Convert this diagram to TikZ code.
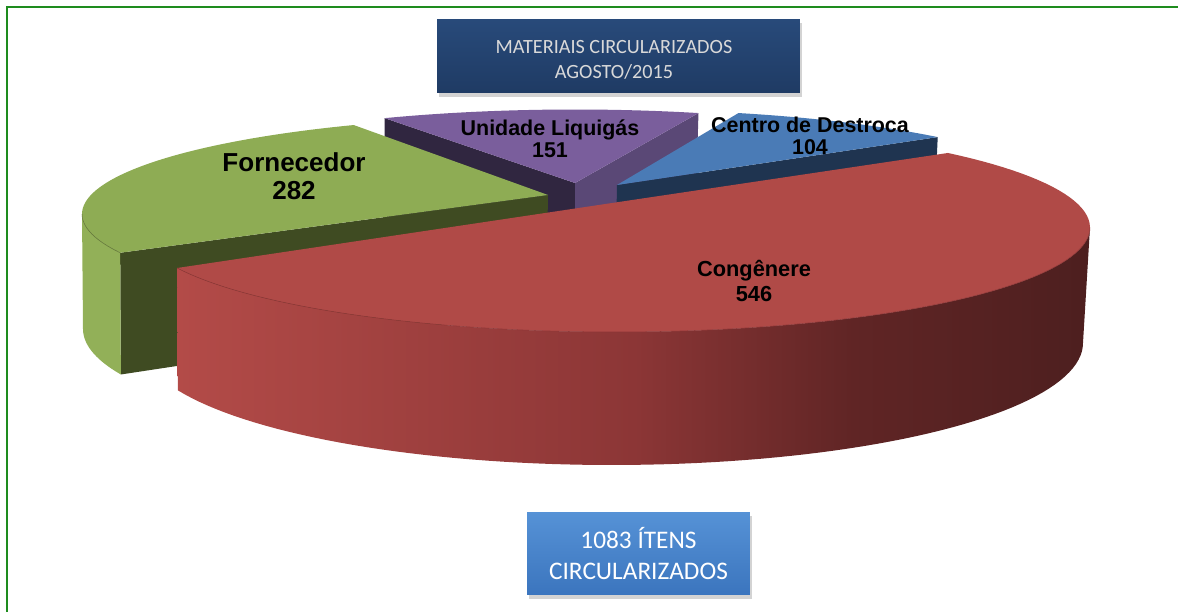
\documentclass[tikz,border=0pt]{standalone}
\usepackage{fontspec}
\setmainfont{Liberation Sans}
\newfontfamily\calibri{Carlito}
\usetikzlibrary{shadows}

\definecolor{frameGreen}{RGB}{30,140,30}
\definecolor{greenTop}{RGB}{142,172,84}
\definecolor{greenSide}{RGB}{146,176,88}
\definecolor{greenDark}{RGB}{63,75,34}
\definecolor{liqTop}{RGB}{122,94,156}
\definecolor{liqDark}{RGB}{48,38,64}
\definecolor{liqSide}{RGB}{90,72,118}
\definecolor{blueTop}{RGB}{74,123,182}
\definecolor{blueDark}{RGB}{31,52,80}
\definecolor{redTop}{RGB}{176,74,71}
\definecolor{redWallA}{RGB}{179,75,72}
\definecolor{redWallB}{RGB}{140,54,54}
\definecolor{redWallC}{RGB}{96,37,37}
\definecolor{redWallD}{RGB}{77,31,31}
\definecolor{navyBox}{RGB}{31,59,100}
\definecolor{navyBoxTop}{RGB}{40,74,122}
\definecolor{skyBoxTop}{RGB}{86,146,214}
\definecolor{skyBoxBot}{RGB}{59,117,190}

\pgfdeclarehorizontalshading{redwall}{100bp}{color(0bp)=(redWallA); color(25bp)=(redWallA); color(50bp)=(redWallB); color(62bp)=(redWallC); color(75bp)=(redWallD); color(100bp)=(redWallD)}

\begin{document}
\begin{tikzpicture}[x=0.02cm,y=-0.02cm,
  frame/.style={draw=frameGreen,line width=1.2pt},
  rimline/.style={line width=0.3pt},
  slicetext/.style={align=center,inner sep=0pt,font=\bfseries\fontsize{12.2}{12.6}\selectfont},
  titlebox/.style={minimum width=7.26cm,minimum height=1.48cm,top color=navyBoxTop,bottom color=navyBox,
    drop shadow={shadow xshift=1pt,shadow yshift=-2pt,opacity=0.35}},
  titletext/.style={text=black!15,align=center,inner sep=0pt,font=\calibri\fontsize{11.5}{14.2}\selectfont},
  totalbox/.style={minimum width=4.46cm,minimum height=1.66cm,top color=skyBoxTop,bottom color=skyBoxBot,
    text=white,align=center,font=\calibri\fontsize{14.4}{17.6}\selectfont,
    drop shadow={shadow xshift=1pt,shadow yshift=-2pt,opacity=0.35}}]

\useasboundingbox (0,0) rectangle (1178,612);
\draw[frame] (7,612) -- (7,7) -- (1178,7);

% Unidade Liquigas
\coordinate (liqApex) at (575,183);
\coordinate (liqApexB) at (575,293);
\coordinate (liqL) at ({575+468*cos(246)},{209.5+100*sin(246)});
\coordinate (liqLB) at ({573+464*cos(246)},{324.5+117*sin(246)});
\coordinate (liqR) at ({575+468*cos(285.3)},{209.5+100*sin(285.3)});
\coordinate (liqRB) at ({573+464*cos(285.3)},{324.5+117*sin(285.3)});
\fill[liqDark] (liqApex) -- (liqL) -- (liqLB) -- (liqApexB) -- cycle;
\fill[liqSide] (liqApex) -- (liqR) -- (liqRB) -- (liqApexB) -- cycle;
\fill[liqTop] (liqApex) -- plot[domain=246:285.3,samples=40,variable=\t] ({575+468*cos(\t)},{209.5+100*sin(\t)}) -- cycle;

% Centro de Destroca
\coordinate (desApex) at (617,185);
\coordinate (desApexB) at (615,295);
\coordinate (desR) at ({615+468*cos(-46.4)},{209.5+100*sin(-46.4)});
\coordinate (desRB) at ({613+464*cos(-46.4)},{324.5+117*sin(-46.4)});
\fill[blueDark] (desApex) -- (desR) -- (desRB) -- (desApexB) -- cycle;
\fill[blueTop] (desApex) -- plot[domain=-74.7:-46.4,samples=40,variable=\t] ({615+468*cos(\t)},{209.5+100*sin(\t)}) -- cycle;

% Fornecedor
\coordinate (forApex) at (548,195);
\coordinate (forApexB) at (546,310);
\coordinate (forF) at ({550+468*cos(156.7)},{214+98*sin(156.7)});
\coordinate (forFB) at ({547+464*cos(156.7)},{329+115*sin(156.7)});
\fill[greenDark] (forApex) -- (forF) -- (forFB) -- (forApexB) -- cycle;
\fill[greenSide] plot[domain=156.7:180,samples=30,variable=\t] ({550+468*cos(\t)},{214+98*sin(\t)})
  -- plot[domain=180:156.7,samples=30,variable=\t] ({547+464*cos(\t)},{329+115*sin(\t)}) -- cycle;
\fill[greenTop] (forApex) -- plot[domain=156.7:245.2,samples=60,variable=\t] ({550+468*cos(\t)},{214+98*sin(\t)}) -- cycle;
\draw[rimline,greenDark!60!greenTop] plot[domain=156.7:180,samples=30,variable=\t] ({550+468*cos(\t)},{214+98*sin(\t)});

% Congenere
\coordinate (conApex) at (612,203);
\shade[shading=redwall] plot[domain=0:157.2,samples=80,variable=\t] ({615+475*cos(\t)},{227.5+104.5*sin(\t)})
  -- plot[domain=157.2:0,samples=80,variable=\t] ({612+471*cos(\t)},{343+122*sin(\t)}) -- cycle;
\fill[redTop] (conApex) -- plot[domain=-45.5:157.2,samples=100,variable=\t] ({615+475*cos(\t)},{227.5+104.5*sin(\t)}) -- cycle;
\draw[rimline,redWallB] plot[domain=0:157.2,samples=80,variable=\t] ({615+475*cos(\t)},{227.5+104.5*sin(\t)});

% labels
\node[slicetext,font=\bfseries\fontsize{14.8}{15.9}\selectfont] (forText) at (294,176) {Fornecedor\\282};
\node[slicetext] (liqText) at (550,139) {Unidade Liquigás\\151};
\node[slicetext] (desText) at (810,135.5) {Centro de Destroca\\104};
\node[slicetext,font=\bfseries\fontsize{12.4}{14.2}\selectfont] (conText) at (754,280.5) {Congênere\\546};

\node[titlebox] (titleBox) at (618.5,56) {};
\node[titletext] (titleText) at (614,60) {MATERIAIS CIRCULARIZADOS\\AGOSTO/2015};
\node[totalbox] (total) at (638.5,553.5) {1083 ÍTENS\\CIRCULARIZADOS};
\end{tikzpicture}
\end{document}
